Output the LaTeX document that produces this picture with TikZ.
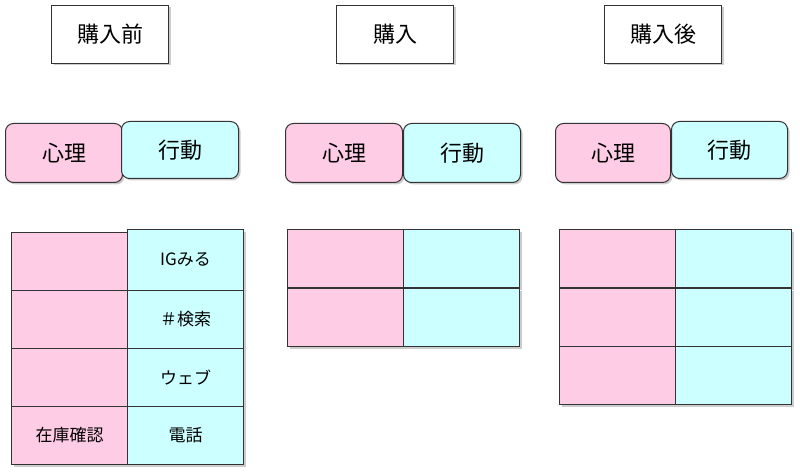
\documentclass[tikz,border=0pt]{standalone}
\usepackage{fontspec}
\newfontfamily\cjk{Noto Sans CJK JP}
\usetikzlibrary{shadows}
\definecolor{pinkfill}{HTML}{FFCCE6}
\definecolor{cyanfill}{HTML}{CCFFFF}
\definecolor{edgecol}{HTML}{333333}
\tikzset{
  base/.style={draw=edgecol, line width=1pt, inner sep=0pt, anchor=north west,
    drop shadow={shadow xshift=2pt, shadow yshift=-2pt, fill=black, opacity=0.2}},
  titlebox/.style={base, fill=white, minimum width=117pt, minimum height=58pt,
    font=\cjk\fontsize{22}{26}\selectfont},
  tabp/.style={base, fill=pinkfill, rounded corners=8pt, minimum width=117pt, minimum height=59pt,
    font=\cjk\fontsize{22}{26}\selectfont},
  tabc/.style={base, fill=cyanfill, rounded corners=8pt, minimum width=117pt, minimum height=58pt,
    font=\cjk\fontsize{22}{26}\selectfont},
  cellp/.style={base, fill=pinkfill, minimum width=116pt, minimum height=58pt,
    font=\cjk\fontsize{17}{20}\selectfont},
  cellc/.style={base, fill=cyanfill, minimum width=116pt, minimum height=58pt,
    font=\cjk\fontsize{17}{20}\selectfont},
}
\begin{document}
\begin{tikzpicture}[x=1pt,y=-1pt]
\useasboundingbox[fill=white] (0,0) rectangle (800,473);
% titles
\node[titlebox] (t1) at (51,5) {購入前};
\node[titlebox] (t2) at (336,5) {購入};
\node[titlebox] (t3) at (604,5) {購入後};
% tabs
\node[tabp] (p1) at (5,123) {心理};
\node[tabc, minimum height=57pt] (c1) at (121,121) {行動};
\node[tabp] (p2) at (285,123) {心理};
\node[tabc, minimum height=59pt] (c2) at (403,123) {行動};
\node[tabp, minimum width=115pt] (p3) at (555,123) {心理};
\node[tabc, minimum width=116pt, minimum height=57pt] (c3) at (671,121) {行動};
% left grid
\node[cellp] (la1) at (11,232) {};
\node[cellp] (la2) at (11,290) {};
\node[cellp] (la3) at (11,348) {};
\node[cellp] (la4) at (11,406) {在庫確認};
\node[cellc, minimum height=61pt] (lb1) at (127,229) {IGみる};
\node[cellc] (lb2) at (127,290) {＃検索};
\node[cellc] (lb3) at (127,348) {ウェブ};
\node[cellc] (lb4) at (127,406) {電話};
% middle grid
\node[cellp] (ma1) at (287,229) {};
\node[cellp] (ma2) at (287,288) {};
\node[cellc] (mb1) at (403,229) {};
\node[cellc] (mb2) at (403,288) {};
% right grid
\node[cellp] (ra1) at (559,229) {};
\node[cellp] (ra2) at (559,288) {};
\node[cellp] (ra3) at (559,346) {};
\node[cellc] (rb1) at (675,229) {};
\node[cellc] (rb2) at (675,288) {};
\node[cellc] (rb3) at (675,346) {};
\end{tikzpicture}
\end{document}
